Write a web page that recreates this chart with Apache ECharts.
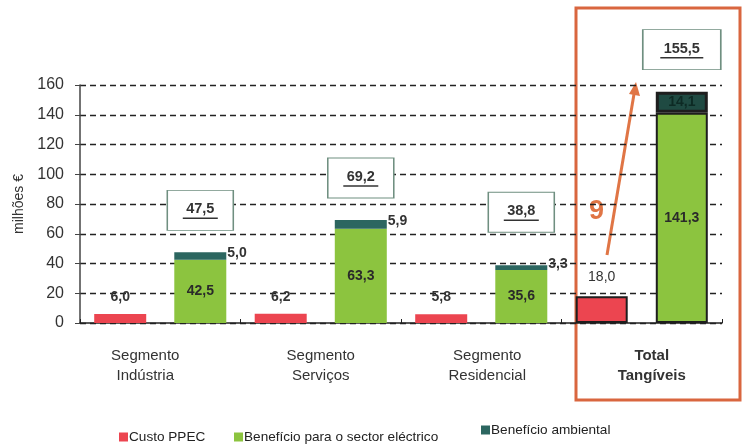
<!DOCTYPE html>
<html><head><meta charset="utf-8">
<script src="https://cdn.jsdelivr.net/npm/echarts@6/dist/echarts.min.js"></script>
<style>html,body{margin:0;padding:0;background:#fff}#c{width:743px;height:445px}</style>
</head><body><div id="c"></div>
<script>
var categories = ['Segmento\nIndústria', 'Segmento\nServiços', 'Segmento\nResidencial', 'Total\nTangíveis'];
var custoPPEC = [6.0, 6.2, 5.8, 18.0];
var beneficioSector = [42.5, 63.3, 35.6, 141.3];
var beneficioAmbiental = [5.0, 5.9, 3.3, 14.1];
var totais = [47.5, 69.2, 38.8, 155.5];
var yTicks = [0, 20, 40, 60, 80, 100, 120, 140, 160];

function fmt(v){ return v.toFixed(1).replace('.', ','); }
var FONT = '"Liberation Sans", Arial, sans-serif';
var last = categories.length - 1;
var totalBorder = {borderColor:'#1e1e1e', borderWidth:2};
var labelPad = [[0,30,0,0],[0,0,0,0],[0,0,0,12],[0,0,0,20]];

var chart = echarts.init(document.getElementById('c'));
chart.setOption({
  animation:false,
  textStyle:{fontFamily:FONT},
  grid:{left:80, right:21, top:85, bottom:122},
  legend:[
    {data:['Custo PPEC'], left:114, top:425},
    {data:['Benefício para o sector eléctrico'], left:229, top:425},
    {data:['Benefício ambiental'], left:476, top:418}
  ].map(function(l){ return Object.assign(l, {icon:'rect', itemWidth:9, itemHeight:9, itemGap:0,
      textStyle:{fontSize:13.6, color:'#222', fontFamily:FONT, padding:[0,0,0,-4]}}); }),
  xAxis:{type:'category', data:categories,
    axisLine:{lineStyle:{color:'#222', width:1.5}},
    axisTick:{show:true, inside:true, length:4, lineStyle:{color:'#222'}},
    axisLabel:{margin:23, fontSize:15, color:'#333', lineHeight:20, fontFamily:FONT,
      formatter:function(v, i){
        return v.split('\n').map(function(s){return '{a'+i+'|'+s+'}';}).join('\n');
      },
      rich:{
        a0:{fontSize:15, color:'#333', lineHeight:20, fontFamily:FONT, padding:labelPad[0]},
        a1:{fontSize:15, color:'#333', lineHeight:20, fontFamily:FONT, padding:labelPad[1]},
        a2:{fontSize:15, color:'#333', lineHeight:20, fontFamily:FONT, padding:labelPad[2]},
        a3:{fontSize:15, fontWeight:'bold', color:'#333', lineHeight:20, fontFamily:FONT, padding:labelPad[3]}
      }}
  },
  yAxis:{type:'value', min:yTicks[0], max:yTicks[yTicks.length-1], interval:20,
    name:'milhões €', nameLocation:'middle', nameGap:52, nameRotate:90,
    nameTextStyle:{fontSize:14, color:'#333', fontFamily:FONT},
    axisLine:{show:true, lineStyle:{color:'#444', width:1.5}},
    axisTick:{show:true, length:5, lineStyle:{color:'#444'}},
    axisLabel:{fontSize:16, color:'#333', margin:16, fontFamily:FONT},
    splitLine:{lineStyle:{color:'#222', type:[6,4], width:1.3}}
  },
  series:[
    {name:'Custo PPEC', type:'bar', barWidth:52, barGap:'54%', barCategoryGap:'17%',
      itemStyle:{color:'#ec4550'},
      data:custoPPEC.map(function(v,i){ return i===last ? {value:v, itemStyle:totalBorder,
        label:{fontWeight:'normal', distance:12}} : v; }),
      label:{show:true, position:'top', distance:10, formatter:function(p){return fmt(p.value);},
        fontSize:14, fontWeight:'bold', color:'#333', fontFamily:FONT}
    },
    {name:'Benefício para o sector eléctrico', type:'bar', stack:'b', barWidth:52,
      itemStyle:{color:'#8cc43f'},
      data:beneficioSector.map(function(v,i){ return i===last ? {value:v, itemStyle:totalBorder} : v; }),
      label:{show:true, position:'inside', formatter:function(p){return fmt(p.value);},
        fontSize:14, fontWeight:'bold', color:'#2a2a2a', fontFamily:FONT}
    },
    {name:'Benefício ambiental', type:'bar', stack:'b', barWidth:52,
      itemStyle:{color:'#2c6660'},
      data:beneficioAmbiental.map(function(v,i){ return i===last ? {value:v,
        itemStyle:{color:'#1f4a42', borderColor:'#1e1e1e', borderWidth:3},
        label:{position:'inside', offset:[0,0], color:'#0d2a24'}} : v; }),
      label:{show:true, position:'right', distance:1, offset:[0,-3], formatter:function(p){return fmt(p.value);},
        fontSize:14, fontWeight:'bold', color:'#333', fontFamily:FONT},
      markPoint:{
        symbol:'rect', symbolSize:[66,40], symbolOffset:[0,-42],
        itemStyle:{color:'#fff', borderColor:'#6f8f80', borderWidth:1.2},
        label:{show:true, position:'inside',
          formatter:function(p){ return '{v|'+fmt(p.value)+'}\n{u|}'; },
          rich:{v:{fontSize:14.5, fontWeight:'bold', color:'#333', lineHeight:16, fontFamily:FONT},
                u:{width:38, height:1.5, backgroundColor:'#333', lineHeight:2}}},
        data:totais.map(function(v,i){ return {coord:[i, v], value:v,
          symbolSize: i===last ? [78,40] : [66,40],
          symbolOffset: i===2 ? [0,-53] : [0,-42],
          label:{rich:{u:{width: i===last ? 43 : 35}}}}; })
      }
    }
  ],
  graphic:[
    {type:'rect', shape:{x:576, y:8, width:164, height:392},
      style:{fill:'none', stroke:'#d9663f', lineWidth:3}},
    {type:'line', shape:{x1:607, y1:255, x2:634, y2:94},
      style:{stroke:'#e07545', lineWidth:3}},
    {type:'polygon', shape:{points:[[636,82],[640,96],[629,94]]},
      style:{fill:'#e07545'}},
    {type:'text', left:589, top:198, style:{text:'9', fontSize:27, fontWeight:'bold', fill:'#e07545', fontFamily:FONT}}
  ]
});
</script></body></html>
